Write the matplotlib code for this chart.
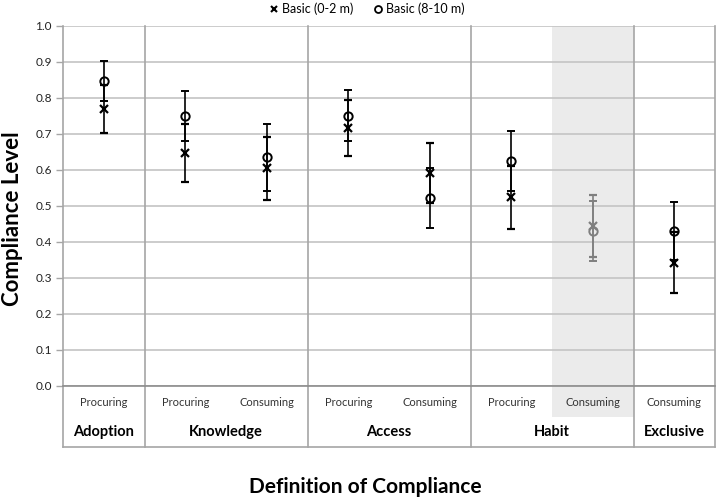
import matplotlib
matplotlib.use("Agg")
import matplotlib.pyplot as plt
from matplotlib.lines import Line2D

plt.rcParams['font.family'] = ['Lato', 'DejaVu Sans']

sub_labels = ["Procuring", "Procuring", "Consuming", "Procuring", "Consuming",
              "Procuring", "Consuming", "Consuming"]
groups = ["Adoption", "Knowledge", "Access", "Habit", "Exclusive"]
group_spans = [1, 2, 2, 2, 1]
basic_02 = [0.770, 0.648, 0.605, 0.717, 0.591, 0.524, 0.444, 0.343]
err_02 = [0.067, 0.081, 0.087, 0.078, 0.084, 0.087, 0.086, 0.086]
basic_810 = [0.847, 0.750, 0.636, 0.751, 0.522, 0.625, 0.430, 0.430]
err_810 = [0.056, 0.069, 0.093, 0.070, 0.084, 0.082, 0.083, 0.081]
highlight = 6
y_ticks = [0.0, 0.1, 0.2, 0.3, 0.4, 0.5, 0.6, 0.7, 0.8, 0.9, 1.0]

fig = plt.figure(figsize=(7.17, 5.0), dpi=100)
ax = fig.add_axes([63/717, 114/500, 652/717, 360/500])
n = len(sub_labels)
ax.set_xlim(0, n)
ax.set_ylim(0, 1.0)

grid_c = '#c4c4c4'
div_c = '#a6a6a6'
for t in y_ticks:
    ax.axhline(t, color=grid_c, lw=1.2, zorder=1)

y_bot = -0.169
# highlight shading
ax.fill_between([highlight, highlight + 1], -0.086, 1.0, color='#ebebeb',
                zorder=0, clip_on=False, lw=0)

# group dividers
edges = [0]
for s in group_spans:
    edges.append(edges[-1] + s)
for e in edges:
    ax.plot([e, e], [y_bot, 1.0], color=div_c, lw=1.2, clip_on=False, zorder=2)
ax.plot([0, n], [y_bot, y_bot], color=div_c, lw=1.2, clip_on=False, zorder=2)
ax.plot([0, n], [0, 0], color='#8c8c8c', lw=1.2, clip_on=False, zorder=2)

for sp in ax.spines.values():
    sp.set_visible(False)

ax.set_yticks(y_ticks)
ax.set_yticklabels([f"{t:.1f}" for t in y_ticks], fontsize=8.5, color='#222222')
ax.tick_params(axis='y', length=5, color=div_c, width=1.0, pad=3)
ax.set_xticks([])

for i in range(n):
    c = '#7f7f7f' if i == highlight else 'black'
    ax.errorbar(i + 0.5, basic_02[i], yerr=err_02[i], fmt='x', color=c,
                ms=5.5, mew=1.6, elinewidth=1.2, capsize=3, capthick=1.1, zorder=4)
    ax.errorbar(i + 0.5, basic_810[i], yerr=err_810[i], fmt='o', color=c,
                mfc='none', ms=6, mew=1.4, elinewidth=1.2, capsize=3,
                capthick=1.1, zorder=4)
    ax.text(i + 0.5, -0.047, sub_labels[i], ha='center', va='center',
            fontsize=8, color='#333333')

for g, a, b in zip(groups, edges[:-1], edges[1:]):
    ax.text((a + b) / 2, -0.128, g, ha='center', va='center', fontsize=10.5,
            fontweight='bold', color='black')

fig.text(13/717, 1 - 219/500, "Compliance Level", rotation=90, ha='center',
         va='center', fontsize=16, fontweight='bold')
fig.text(365/717, 1 - 487/500, "Definition of Compliance", ha='center',
         va='center', fontsize=15, fontweight='bold')

handles = [Line2D([], [], marker='x', ls='none', color='black', ms=5, mew=1.5),
           Line2D([], [], marker='o', ls='none', color='black', mfc='none', ms=5, mew=1.3)]
fig.legend(handles, ["Basic (0-2 m)", "Basic (8-10 m)"], loc='center',
           bbox_to_anchor=(366/717, 1 - 9/500), ncol=2, frameon=False,
           fontsize=9, handletextpad=0.1, columnspacing=1.5, handlelength=1.0)

fig.savefig("out.png", dpi=100)
